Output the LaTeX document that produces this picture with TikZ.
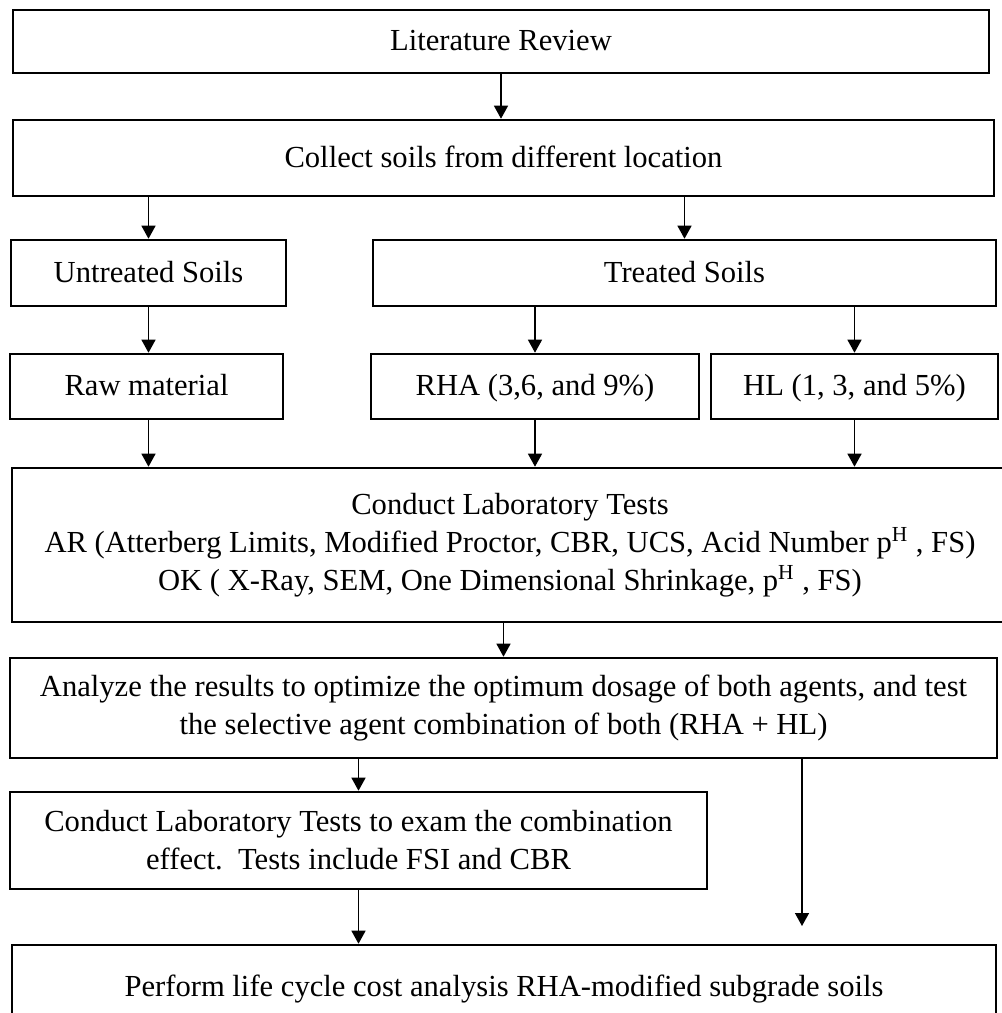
\documentclass[tikz,border=0pt]{standalone}
\usepackage{fontspec}
\setmainfont{Liberation Serif}
\usetikzlibrary{arrows.meta}

\begin{document}
\begin{tikzpicture}[x=0.5pt,y=-0.5pt,
    box/.style={draw,line width=1.3pt,inner sep=0pt,align=center,
                font=\fontsize{15.3}{19}\selectfont},
    oneline/.style={text height=11pt,text depth=2pt},
    flow/.style={-{Triangle[width=7pt,length=6.5pt]},line width=0.7pt}]
    \useasboundingbox (0,0) rectangle (1002,1013);
    \clip (0,0) rectangle (1002,1013);

    %Top rows
    \node[box,oneline,minimum width=488pt,minimum height=31.5pt] (lit) at (501,41.5) {Literature Review};
    \node[box,oneline,minimum width=490.5pt,minimum height=38pt] (collect) at (503.5,158) {Collect soils from different location};
    \node[box,oneline,minimum width=137.5pt,minimum height=33pt] (untr) at (148.5,273) {Untreated Soils};
    \node[box,oneline,minimum width=311.5pt,minimum height=33pt] (treat) at (684.5,273) {Treated Soils};
    \node[box,oneline,minimum width=136.5pt,minimum height=32.5pt] (raw) at (146.5,386.5) {Raw material};
    \node[box,oneline,minimum width=164pt,minimum height=32.5pt] (rha) at (535,386.5) {RHA (3,6, and 9\%)};
    \node[box,oneline,minimum width=143.5pt,minimum height=32.5pt] (hl) at (854.5,386.5) {HL (1, 3, and 5\%)};

    %Lab tests
    \node[box,minimum width=498pt,minimum height=77pt] (lab) at (510,545)
        {Conduct Laboratory Tests\\
         AR (Atterberg Limits, Modified Proctor, CBR, UCS, Acid Number p\textsuperscript{H} , FS)\\
         OK ( X-Ray, SEM, One Dimensional Shrinkage, p\textsuperscript{H} , FS)};
    \node[box,minimum width=493.5pt,minimum height=50pt] (anl) at (503.5,708)
        {Analyze the results to optimize the optimum dosage of both agents, and test\\
         the selective agent combination of both (RHA + HL)};
    \node[box,minimum width=348.5pt,minimum height=48.5pt] (comb) at (358.5,840.5)
        {Conduct Laboratory Tests to exam the combination\\
         effect.\ \ Tests include FSI and CBR};
    \node[box,oneline,minimum width=492pt,minimum height=42.5pt] (perf) at (504,987.5)
        {Perform life cycle cost analysis RHA-modified subgrade soils};
    \coordinate (gap) at (802,926);

    %Arrows
    \draw[flow] (lit.south) -- (lit.south |- collect.north);
    \draw[flow] (untr.north |- collect.south) -- (untr.north);
    \draw[flow] (treat.north |- collect.south) -- (treat.north);
    \draw[flow] (untr.south) -- (untr.south |- raw.north);
    \draw[flow] (rha.north |- treat.south) -- (rha.north);
    \draw[flow] (hl.north |- treat.south) -- (hl.north);
    \draw[flow] (untr.south |- raw.south) -- (untr.south |- lab.north);
    \draw[flow] (rha.south) -- (rha.south |- lab.north);
    \draw[flow] (hl.south) -- (hl.south |- lab.north);
    \draw[flow] (anl.north |- lab.south) -- (anl.north);
    \draw[flow] (comb.north |- anl.south) -- (comb.north);
    \draw[flow] (comb.south) -- (comb.south |- perf.north);
    \draw[flow] (gap |- anl.south) -- (gap);
\end{tikzpicture}
\end{document}
